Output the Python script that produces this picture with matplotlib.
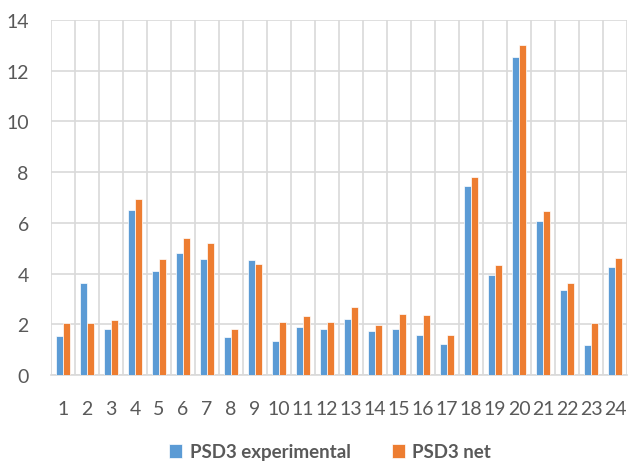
import numpy as np
import matplotlib.pyplot as plt

plt.rcParams['font.family'] = ['Lato', 'DejaVu Sans']

samples = [str(i) for i in range(1, 25)]
experimental = [1.53, 3.64, 1.80, 6.51, 4.09, 4.82, 4.58, 1.50, 4.54, 1.34, 1.91, 1.82,
                2.20, 1.74, 1.82, 1.58, 1.24, 7.47, 3.95, 12.54, 6.08, 3.34, 1.18, 4.25]
net = [2.04, 2.04, 2.18, 6.93, 4.58, 5.41, 5.20, 1.80, 4.39, 2.09, 2.32, 2.08,
       2.67, 1.99, 2.39, 2.37, 1.59, 7.82, 4.34, 13.00, 6.47, 3.62, 2.07, 4.61]

blue = '#5b9bd5'
orange = '#ed7d31'
grid_c = '#d9d9d9'
text_c = '#595959'

fig = plt.figure(figsize=(6.32, 4.64), dpi=100)
ax = fig.add_axes([51 / 632, 1 - 376 / 464, 576 / 632, 355 / 464])

x = np.arange(len(samples))
w = 0.27
ax.bar(x - 0.14, experimental, w, color=blue, edgecolor='white', linewidth=0.5,
       label='PSD3 experimental', zorder=3)
ax.bar(x + 0.14, net, w, color=orange, edgecolor='white', linewidth=0.5,
       label='PSD3 net', zorder=3)

ax.set_xlim(-0.5, len(samples) - 0.5)
ax.set_ylim(0, 14)
ax.set_yticks(range(0, 15, 2))
ax.set_xticks(x)
ax.set_xticklabels(samples)
ax.set_xticks(np.arange(-0.5, len(samples), 1), minor=True)

ax.grid(axis='y', color=grid_c, linewidth=1.2, zorder=0)
ax.grid(axis='x', which='minor', color=grid_c, linewidth=1.2, zorder=0)
ax.tick_params(axis='both', which='both', length=0, colors=text_c, labelsize=14)
ax.tick_params(axis='x', pad=18)
ax.tick_params(axis='y', pad=16)
for s in ['top', 'right', 'left']:
    ax.spines[s].set_visible(False)
ax.spines['bottom'].set_color(grid_c)
ax.spines['bottom'].set_linewidth(1.2)

leg = fig.legend(loc='center', bbox_to_anchor=(330 / 632, 1 - 453 / 464), ncol=2,
                 frameon=False, handlelength=0.7, handleheight=0.7,
                 handletextpad=0.4, columnspacing=2.2,
                 prop={'size': 13.5, 'weight': 'bold'})
for t in leg.get_texts():
    t.set_color(text_c)

fig.savefig('out.png', dpi=100)
